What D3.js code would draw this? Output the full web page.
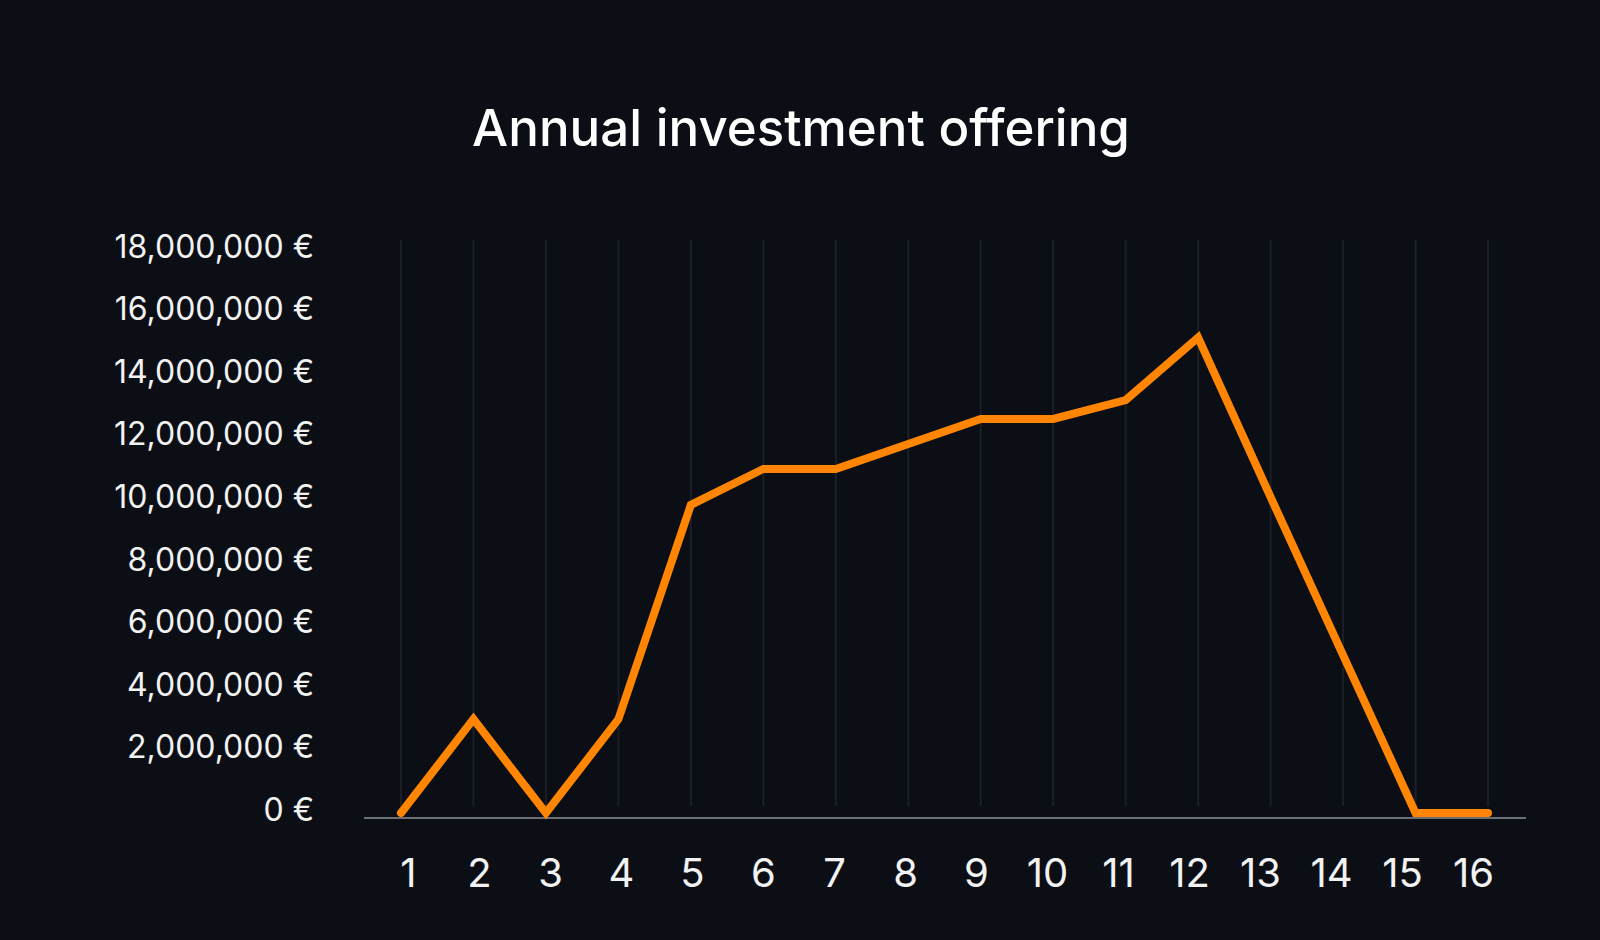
<!DOCTYPE html>
<html lang="en">
    <head>
        <meta charset="utf-8">
        <title>Annual investment offering</title>
        <script src="https://d3js.org/d3.v7.min.js"></script>
        <style type="text/css">
            html, body {
                margin: 0;
                padding: 0;
                background: #0b0f15;
            }
            svg {
                display: block;
            }
            .title {
                font-family: Inter, "Noto Sans", sans-serif;
                font-weight: 500;
                font-size: 51px;
                fill: #ffffff;
            }
            .y-axis text {
                font-family: Inter, "Noto Sans", sans-serif;
                font-size: 32px;
                fill: #f2f2f2;
            }
            .x-axis text {
                font-family: Inter, "Noto Sans", sans-serif;
                font-size: 40px;
                fill: #f2f2f2;
            }
        </style>
    </head>
    <body>
        <svg width="1600" height="940"></svg>
        <script type="text/javascript">

            // years and offered amount (EUR)
            const years = [1, 2, 3, 4, 5, 6, 7, 8, 9, 10, 11, 12, 13, 14, 15, 16];
            const amounts = [0, 3000000, 0, 3000000, 9850000, 11000000, 11000000, 11800000,
                             12600000, 12600000, 13200000, 15200000, 10100000, 5050000, 0, 0];
            const yTicks = [0, 2000000, 4000000, 6000000, 8000000, 10000000,
                            12000000, 14000000, 16000000, 18000000];

            const data = years.map((y, i) => ({year: y, value: amounts[i]}));

            const svg = d3.select("svg");
            const w = 1600;
            const h = 940;

            svg.append("rect")
               .attr("width", w)
               .attr("height", h)
               .attr("fill", "#0b0f15");

            const x = d3.scalePoint()
                        .domain(years)
                        .range([401, 1488]);

            // tick labels sit on a slightly narrower band than the points
            const xLabel = d3.scalePoint()
                             .domain(years)
                             .range([408, 1473]);

            const y = d3.scaleLinear()
                        .domain([0, 18000000])
                        .range([813, 250]);

            // title
            svg.append("text")
               .attr("class", "title")
               .attr("x", 801)
               .attr("y", 146)
               .attr("text-anchor", "middle")
               .text("Annual investment offering");

            // vertical grid lines
            svg.append("g")
               .selectAll("line")
               .data(years)
               .enter()
               .append("line")
               .attr("x1", d => x(d))
               .attr("x2", d => x(d))
               .attr("y1", 240)
               .attr("y2", 806)
               .attr("stroke", "#1b1f26")
               .attr("stroke-width", 2);

            // y axis labels, no line
            const yAxis = d3.axisLeft(y)
                            .tickValues(yTicks)
                            .tickSize(0)
                            .tickPadding(0)
                            .tickFormat(d => d3.format(",")(d) + " €");

            svg.append("g")
               .attr("class", "y-axis")
               .attr("transform", "translate(314,-3)")
               .call(yAxis)
               .call(g => g.select(".domain").remove());

            // baseline
            svg.append("line")
               .attr("x1", 364)
               .attr("x2", 1526)
               .attr("y1", 818)
               .attr("y2", 818)
               .attr("stroke", "#6a6e75")
               .attr("stroke-width", 2);

            // x axis labels
            const xAxis = d3.axisBottom(xLabel)
                            .tickSize(0)
                            .tickPadding(0);

            svg.append("g")
               .attr("class", "x-axis")
               .attr("transform", "translate(0,859)")
               .call(xAxis)
               .call(g => g.select(".domain").remove());

            // the line
            const line = d3.line()
                           .x(d => x(d.year))
                           .y(d => y(d.value));

            svg.append("path")
               .datum(data)
               .attr("d", line)
               .attr("fill", "none")
               .attr("stroke", "#ff8503")
               .attr("stroke-width", 8)
               .attr("stroke-linecap", "round")
               .attr("stroke-linejoin", "miter");

        </script>
    </body>
</html>
